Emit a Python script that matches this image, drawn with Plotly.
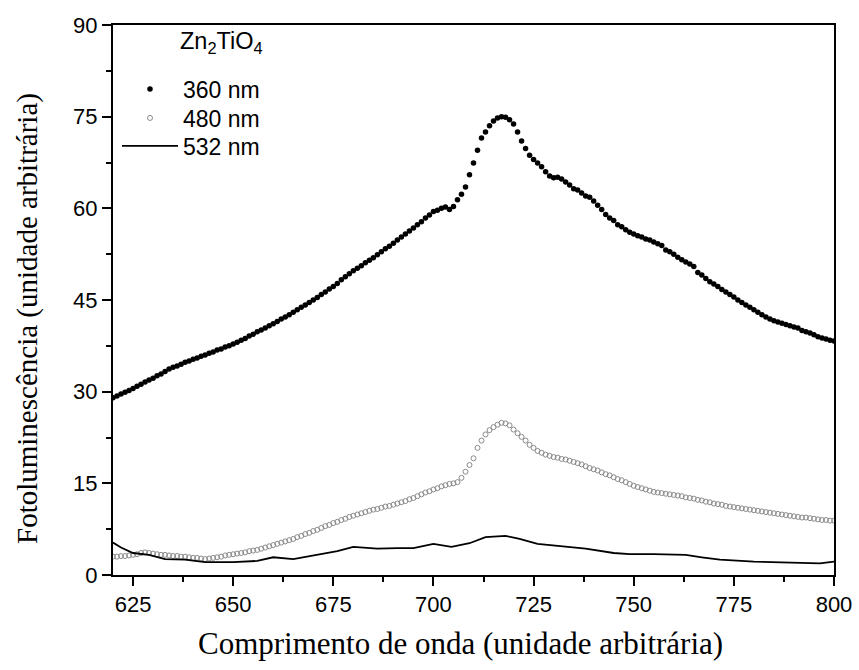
import plotly.graph_objects as go

# ---------------- data ----------------
wl = list(range(620, 801))  # nm, 1 nm step

pl_360 = [
    29.0, 29.3, 29.6, 29.9, 30.2, 30.5, 30.9, 31.2, 31.6, 31.9,
    32.2, 32.6, 32.9, 33.3, 33.7, 34.0, 34.2, 34.5, 34.8, 35.0,
    35.3, 35.5, 35.8, 36.0, 36.3, 36.5, 36.8, 37.0, 37.3, 37.5,
    37.8, 38.1, 38.4, 38.7, 39.1, 39.4, 39.8, 40.1, 40.4, 40.8,
    41.1, 41.5, 41.9, 42.2, 42.6, 43.0, 43.4, 43.8, 44.2, 44.6,
    45.0, 45.4, 45.9, 46.3, 46.8, 47.2, 47.7, 48.3, 48.8, 49.3,
    49.8, 50.2, 50.6, 51.1, 51.5, 51.9, 52.4, 52.9, 53.4, 53.8,
    54.3, 54.8, 55.3, 55.8, 56.3, 56.8, 57.3, 57.8, 58.4, 58.9,
    59.5, 59.7, 60.0, 60.2, 59.8, 60.3, 61.4, 62.3, 63.5, 65.5,
    67.4, 69.5, 71.5, 72.5, 73.5, 74.3, 74.8, 75.0, 74.9, 74.5,
    73.8, 72.5, 71.0, 69.8, 68.7, 68.0, 67.4, 66.8, 66.0, 65.3,
    65.0, 65.1, 64.8, 64.3, 63.8, 63.2, 63.0, 62.5, 62.0, 61.8,
    61.2, 60.5, 59.8, 59.0, 58.4, 58.0, 57.3, 57.0, 56.5, 56.1,
    55.8, 55.5, 55.3, 55.0, 54.8, 54.5, 54.2, 53.9, 53.2, 52.9,
    52.5, 52.0, 51.6, 51.2, 50.9, 50.5, 49.5, 49.1, 48.5, 48.0,
    47.6, 47.2, 46.7, 46.3, 45.9, 45.5, 45.0, 44.6, 44.2, 43.8,
    43.4, 43.0, 42.6, 42.2, 41.9, 41.6, 41.4, 41.2, 41.0, 40.8,
    40.6, 40.4, 40.0, 39.8, 39.6, 39.3, 39.0, 38.8, 38.6, 38.4,
    38.3,
]

pl_480 = [
    3.0, 3.0, 3.1, 3.1, 3.2, 3.3, 3.4, 3.6, 3.7, 3.6,
    3.5, 3.4, 3.3, 3.3, 3.2, 3.1, 3.1, 3.0, 3.0, 2.9,
    2.8, 2.8, 2.7, 2.6, 2.7, 2.8, 2.9, 3.0, 3.2, 3.3,
    3.4, 3.5, 3.6, 3.7, 3.9, 4.0, 4.1, 4.3, 4.5, 4.7,
    4.9, 5.1, 5.3, 5.5, 5.7, 5.9, 6.2, 6.4, 6.7, 6.9,
    7.2, 7.4, 7.7, 8.0, 8.2, 8.5, 8.7, 9.0, 9.2, 9.5,
    9.7, 9.9, 10.1, 10.3, 10.5, 10.7, 10.8, 11.0, 11.2, 11.3,
    11.5, 11.7, 11.9, 12.1, 12.4, 12.6, 12.9, 13.2, 13.5, 13.7,
    14.0, 14.2, 14.5, 14.7, 14.9, 15.0, 15.2, 15.9, 16.9, 18.0,
    19.1, 20.8, 22.0, 23.0, 23.7, 24.2, 24.6, 24.9, 24.8, 24.5,
    23.8, 23.2, 22.6, 22.0, 21.3, 20.8, 20.3, 20.0, 19.7, 19.5,
    19.3, 19.2, 19.0, 18.9, 18.7, 18.5, 18.3, 18.1, 17.8, 17.5,
    17.3, 17.1, 16.8, 16.5, 16.3, 16.0, 15.7, 15.5, 15.2, 14.9,
    14.6, 14.4, 14.2, 14.0, 13.8, 13.6, 13.5, 13.4, 13.3, 13.2,
    13.1, 13.0, 12.9, 12.7, 12.6, 12.5, 12.3, 12.2, 12.0, 11.9,
    11.7, 11.6, 11.5, 11.3, 11.2, 11.1, 11.0, 10.9, 10.8, 10.7,
    10.6, 10.5, 10.4, 10.3, 10.2, 10.1, 10.0, 9.9, 9.8, 9.7,
    9.6, 9.5, 9.4, 9.4, 9.3, 9.2, 9.1, 9.0, 9.0, 8.9,
    8.9,
]

wl_532 = [620, 622, 625, 629, 633, 638, 643, 650, 656, 660, 665, 671, 676,
          680, 686, 691, 695, 700, 704.5, 709, 713, 718, 721.5, 726, 732,
          738, 745, 749, 755, 759, 763, 767, 771.5, 780, 788, 796.5, 800]
pl_532 = [5.3, 4.5, 3.6, 3.3, 2.6, 2.5, 2.1, 2.1, 2.3, 2.9, 2.6, 3.3, 3.9,
          4.6, 4.3, 4.4, 4.4, 5.1, 4.6, 5.2, 6.2, 6.4, 5.9, 5.1, 4.7,
          4.3, 3.6, 3.4, 3.4, 3.3, 3.3, 2.9, 2.5, 2.2, 2.1, 1.9, 2.2]

x_ticks = [625, 650, 675, 700, 725, 750, 775, 800]
y_ticks = [0, 15, 30, 45, 60, 75, 90]

SANS = "Liberation Sans, Arial, sans-serif"
SERIF = "Liberation Serif, Times New Roman, serif"

# ---------------- figure ----------------
fig = go.Figure()
fig.add_trace(go.Scatter(
    x=wl, y=pl_360, mode="markers", name="360 nm", legend="legend",
    marker=dict(symbol="circle", size=5.5, color="black"),
))
fig.add_trace(go.Scatter(
    x=wl, y=pl_480, mode="markers", name="480 nm", legend="legend2",
    marker=dict(symbol="circle-open", size=5, color="#8a8a8a",
                line=dict(width=1, color="#8a8a8a")),
))
fig.add_trace(go.Scatter(
    x=wl_532, y=pl_532, mode="lines", name="532 nm", legend="legend3",
    line=dict(color="black", width=1.8),
))

axis_common = dict(
    showline=True, linecolor="black", linewidth=2, mirror=True,
    ticks="outside", tickcolor="black", tickwidth=2, ticklen=9,
    showgrid=False, zeroline=False, automargin=False,
    tickfont=dict(family=SANS, size=22, color="black"),
)

fig.update_xaxes(
    range=[620, 800], tickvals=x_ticks,
    minor=dict(tickvals=[637.5, 662.5, 687.5, 712.5, 737.5, 762.5, 787.5],
               ticks="outside", ticklen=5, tickwidth=2, tickcolor="black"),
    **axis_common,
)
fig.update_yaxes(
    range=[0, 90], tickvals=y_ticks,
    minor=dict(tickvals=[7.5, 22.5, 37.5, 52.5, 67.5, 82.5],
               ticks="outside", ticklen=5, tickwidth=2, tickcolor="black"),
    **axis_common,
)

PLOT_T, PLOT_B, PLOT_L, PLOT_R = 25, 575, 113, 834


def py(pix):
    return (PLOT_B - pix) / (PLOT_B - PLOT_T)


def px(pix):
    return (pix - PLOT_L) / (PLOT_R - PLOT_L)


def leg(ycen):
    return dict(
        x=px(117), y=py(ycen), xanchor="left", yanchor="middle",
        bgcolor="rgba(0,0,0,0)", borderwidth=0,
        font=dict(family=SANS, size=23, color="black"),
        itemwidth=56,
    )


fig.update_layout(
    width=859, height=670,
    margin=dict(l=PLOT_L, r=859 - PLOT_R, t=PLOT_T, b=670 - PLOT_B),
    paper_bgcolor="white", plot_bgcolor="white",
    showlegend=True,
    legend=leg(89), legend2=leg(118), legend3=leg(146),
    annotations=[
        dict(text="Zn<sub>2</sub>TiO<sub>4</sub>", xref="paper", yref="paper",
             x=px(178), y=py(43), xanchor="left", yanchor="middle", showarrow=False,
             font=dict(family=SANS, size=23.5, color="black")),
        dict(text="Comprimento de onda (unidade arbitrária)", xref="paper", yref="paper",
             x=px(460), y=py(643), xanchor="center", yanchor="middle",
             showarrow=False,
             font=dict(family=SERIF, size=31, color="black")),
        dict(text="Fotoluminescência (unidade arbitrária)", xref="paper", yref="paper",
             x=px(27), y=py(319), xanchor="center", yanchor="middle",
             textangle=-90, showarrow=False,
             font=dict(family=SERIF, size=29, color="black")),
    ],
)

fig.write_html("out.html")
